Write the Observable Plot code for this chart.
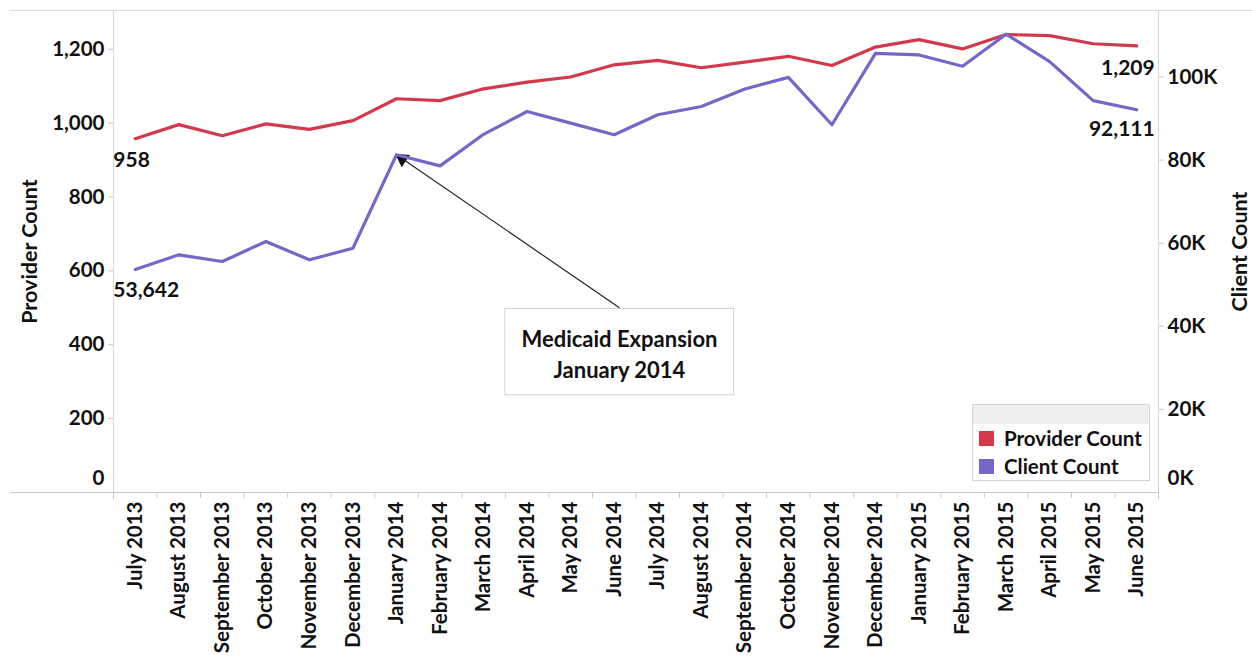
<!DOCTYPE html>
<html>
<head>
<meta charset="utf-8">
<script src="https://cdn.jsdelivr.net/npm/d3@7"></script>
<script src="https://cdn.jsdelivr.net/npm/@observablehq/plot@0.6"></script>
<style>
  html, body { margin: 0; padding: 0; background: #fff; }
  #wrap { position: relative; width: 1252px; height: 665px; font-family: Lato, "Open Sans", sans-serif; font-weight: 700; color: #111; }
  #legend { position: absolute; left: 972px; top: 404px; width: 178px; height: 77px; border: 1px solid #d4d4d4; background: #fff; box-sizing: border-box; }
  #legend .hd { height: 19px; background: #efefef; }
  #legend .row { display: flex; align-items: center; height: 28px; font-size: 20.5px; padding-left: 6px; }
  #legend .sw { width: 15px; height: 15px; margin-right: 10px; }
</style>
</head>
<body>
<div id="wrap"></div>
<script>
// ---- data ----
const months = ["July 2013","August 2013","September 2013","October 2013","November 2013","December 2013",
  "January 2014","February 2014","March 2014","April 2014","May 2014","June 2014",
  "July 2014","August 2014","September 2014","October 2014","November 2014","December 2014",
  "January 2015","February 2015","March 2015","April 2015","May 2015","June 2015"];
const providerCount = [958, 996, 966, 998, 983, 1007, 1066, 1061, 1093, 1111, 1125, 1158,
  1170, 1150, 1165, 1181, 1156, 1206, 1226, 1201, 1240, 1237, 1215, 1209];
const clientCount = [53642, 57200, 55600, 60400, 56000, 58800, 81300, 78600, 86200, 91700, 88900, 86100,
  90900, 92900, 97100, 99900, 88500, 105700, 105300, 102600, 110300, 103700, 94300, 92111];
const providerTicks = [200, 400, 600, 800, 1000, 1200];
const clientTicks = [20000, 40000, 60000, 80000, 100000];
const annotationText = "Medicaid Expansion\nJanuary 2014";
const seriesNames = ["Provider Count", "Client Count"];
const colors = ["#d3394d", "#7667c6"];

// ---- scales ----
const provMax = 1305;
const clientMax = 116000;
const k = provMax / clientMax; // client -> provider scale
const idx = d3.range(months.length);
const provData = idx.map(i => ({i, v: providerCount[i]}));
const clientData = idx.map(i => ({i, v: clientCount[i] * k, raw: clientCount[i]}));
const last = months.length - 1;
const fmt = d3.format(",");
const gray = "#c8c8c8";
const fs = 20.5;

const W = 1252, H = 665, mL = 113, mR = 94, mT = 10, mB = 173;
const xDomain = [-0.5, 23.5];
// pixel helpers mirroring the plot's scales (used only for the arrowhead angle)
const xs = d3.scaleLinear(xDomain, [mL, W - mR]);
const ys = d3.scaleLinear([0, provMax], [H - mB, mT]);

// annotation arrow: from the callout box to January 2014 client point
const arrowStart = {x: 11.12, y: 500};
const arrowEnd = {x: 6, y: clientData[6].v};
const pdx = xs(arrowEnd.x) - xs(arrowStart.x), pdy = ys(arrowEnd.y) - ys(arrowStart.y);
const angle = Math.atan2(pdx, -pdy) * 180 / Math.PI;
const plen = Math.hypot(pdx, pdy);
const t = 1 - 7 / plen;
const head = {x: arrowStart.x + t * (arrowEnd.x - arrowStart.x), y: arrowStart.y + t * (arrowEnd.y - arrowStart.y)};

const chart = Plot.plot({
  width: W,
  height: H,
  marginLeft: mL,
  marginRight: mR,
  marginTop: mT,
  marginBottom: mB,
  style: {fontFamily: "Lato, 'Open Sans', sans-serif", fontWeight: 700, fontSize: fs + "px", color: "#111", background: "#fff", overflow: "visible"},
  x: {domain: xDomain, axis: null},
  y: {domain: [0, provMax], axis: null},
  marks: [
    // frame lines
    Plot.ruleY([provMax], {x1: -2.87, x2: 26.6, stroke: "#dcdcdc"}),
    Plot.ruleY([0], {x1: -2.87, x2: 23.5, stroke: gray}),
    Plot.ruleX([-0.5, 23.5], {y1: -20, y2: provMax, stroke: "#d6d6d6"}),
    // left axis
    Plot.axisY(providerTicks, {anchor: "left", label: null, tickFormat: fmt, tickSize: 5, tickPadding: 4, stroke: gray, fontSize: fs}),
    Plot.axisY([0], {anchor: "left", label: null, tickFormat: fmt, tickSize: 0, tickPadding: 9, dy: -14, fontSize: fs}),
    // right axis
    Plot.axisY(clientTicks.map(v => v * k), {anchor: "right", label: null, tickFormat: d => Math.round(d / k / 1000) + "K", tickSize: 5, tickPadding: 4, stroke: gray, fontSize: fs}),
    Plot.axisY([0], {anchor: "right", label: null, tickFormat: () => "0K", tickSize: 0, tickPadding: 9, dy: -14, fontSize: fs}),
    // x axis
    Plot.axisX(d3.range(25).map(i => i - 0.5), {anchor: "bottom", label: null, tickSize: 6, tickFormat: () => "", stroke: gray}),
    Plot.axisX(idx, {anchor: "bottom", label: null, tickSize: 0, tickPadding: 9, tickRotate: -90, tickFormat: i => months[i], fontSize: fs}),
    // axis titles
    Plot.text(["Provider Count"], {frameAnchor: "left", textAnchor: "middle", dx: -83, rotate: -90, fontSize: 21.5}),
    Plot.text(["Client Count"], {frameAnchor: "right", textAnchor: "middle", dx: 82, rotate: -90, fontSize: 21.5}),
    // annotation
    Plot.rect([0], {x1: 8.5, x2: 13.75, y1: 263, y2: 497, fill: "#fff", stroke: "#d2d2d2"}),
    Plot.text([annotationText], {x: 11.12, y: 379, fontSize: 22, lineHeight: 1.4}),
    Plot.link([0], {x1: arrowStart.x, y1: arrowStart.y, x2: head.x, y2: head.y, stroke: "#222", strokeWidth: 1.2}),
    Plot.dot([head], {x: "x", y: "y", symbol: "triangle", r: 5.5, rotate: angle, fill: "#111", stroke: "none"}),
    // series
    Plot.line(provData, {x: "i", y: "v", stroke: colors[0], strokeWidth: 3.2}),
    Plot.line(clientData, {x: "i", y: "v", stroke: colors[1], strokeWidth: 3.2}),
    // end labels
    Plot.text([provData[0]], {x: "i", y: "v", text: d => fmt(d.v), textAnchor: "start", dx: -22, dy: 22, fontSize: 21}),
    Plot.text([clientData[0]], {x: "i", y: "v", text: d => fmt(d.raw), textAnchor: "start", dx: -22, dy: 21, fontSize: 21}),
    Plot.text([provData[last]], {x: "i", y: "v", text: d => fmt(d.v), textAnchor: "end", dx: 18, dy: 22, fontSize: 21}),
    Plot.text([clientData[last]], {x: "i", y: "v", text: d => fmt(d.raw), textAnchor: "end", dx: 18, dy: 20, fontSize: 21})
  ]
});

const wrap = document.getElementById("wrap");
wrap.appendChild(chart);
const legend = document.createElement("div");
legend.id = "legend";
legend.innerHTML = `<div class="hd"></div>` + seriesNames.map((n, j) =>
  `<div class="row"><span class="sw" style="background:${colors[j]}"></span>${n}</div>`).join("");
wrap.appendChild(legend);
</script>
</body>
</html>
